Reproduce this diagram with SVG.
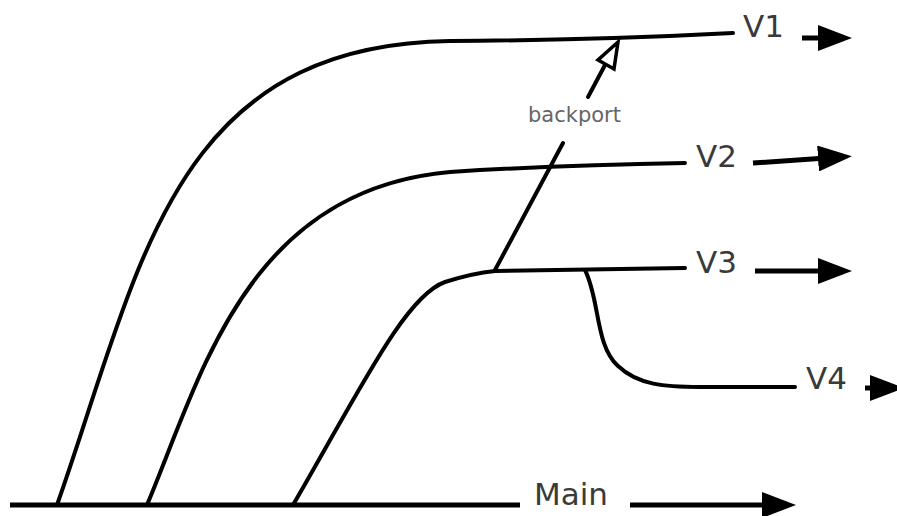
<svg xmlns="http://www.w3.org/2000/svg" width="897" height="516" viewBox="0 0 897 516">
  <style>
    .branch { fill: none; stroke: #000; stroke-width: 4; stroke-linecap: round; stroke-linejoin: round; }
    .main { fill: none; stroke: #000; stroke-width: 5; }
    .arrow { fill: none; stroke: #000; stroke-width: 5; marker-end: url(#head); }
    .lbl { font-family: "DejaVu Sans", "Liberation Sans", sans-serif; font-size: 31px; fill: #3a3a3a; }
    .small { font-family: "DejaVu Sans", "Liberation Sans", sans-serif; font-size: 21px; fill: #666; }
    .back { fill: none; stroke: #000; stroke-width: 4; stroke-linecap: round; }
  </style>
  <defs>
    <marker id="head" markerUnits="userSpaceOnUse" markerWidth="34" markerHeight="26" viewBox="0 0 34 26" refX="8" refY="13" orient="auto">
      <path d="M0,0 L34,13 L0,26 Z" fill="#000"/>
    </marker>
  </defs>

  <g id="connectors">
    <!-- backport arrow -->
    <line class="back" x1="495" y1="270" x2="563" y2="143"/>
    <line class="back" x1="588" y1="97" x2="605" y2="65"/>
    <polygon points="618,42 598,60 614,69" fill="#fff" stroke="#000" stroke-width="3.5" stroke-linejoin="miter"/>
    <!-- direction arrows -->
    <line class="arrow" x1="802" y1="38" x2="826" y2="38"/>
    <line class="arrow" x1="753" y1="163" x2="826" y2="158"/>
    <line class="arrow" x1="755" y1="271" x2="826" y2="271"/>
    <line class="arrow" x1="865" y1="388" x2="878" y2="388"/>
    <line class="arrow" x1="630" y1="505" x2="770" y2="505"/>
  </g>

  <g id="main">
    <line class="main" x1="10" y1="505" x2="520" y2="505"/>
    <text class="lbl" x="534" y="505">Main</text>
  </g>

  <g id="v1">
    <path class="branch" d="M57,505 C140,270 170,45 450,41 Q600,40 733,33"/>
    <text class="lbl" x="743" y="37">V1</text>
  </g>

  <g id="v2">
    <path class="branch" d="M147,505 C200,380 245,190 450,172 Q560,165 685,163"/>
    <text class="lbl" x="696" y="167">V2</text>
  </g>

  <g id="v3">
    <path class="branch" d="M293,505 C360,390 405,296 445,282 C470,274 485,272 495,271 L685,268"/>
    <text class="lbl" x="696" y="273">V3</text>
  </g>

  <g id="v4">
    <path class="branch" d="M585,270 C600,300 595,345 618,366 C638,385 665,387 700,387 L795,387"/>
    <text class="lbl" x="806" y="389">V4</text>
  </g>

  <g id="backport-label">
    <text class="small" x="528" y="122">backport</text>
  </g>
</svg>
